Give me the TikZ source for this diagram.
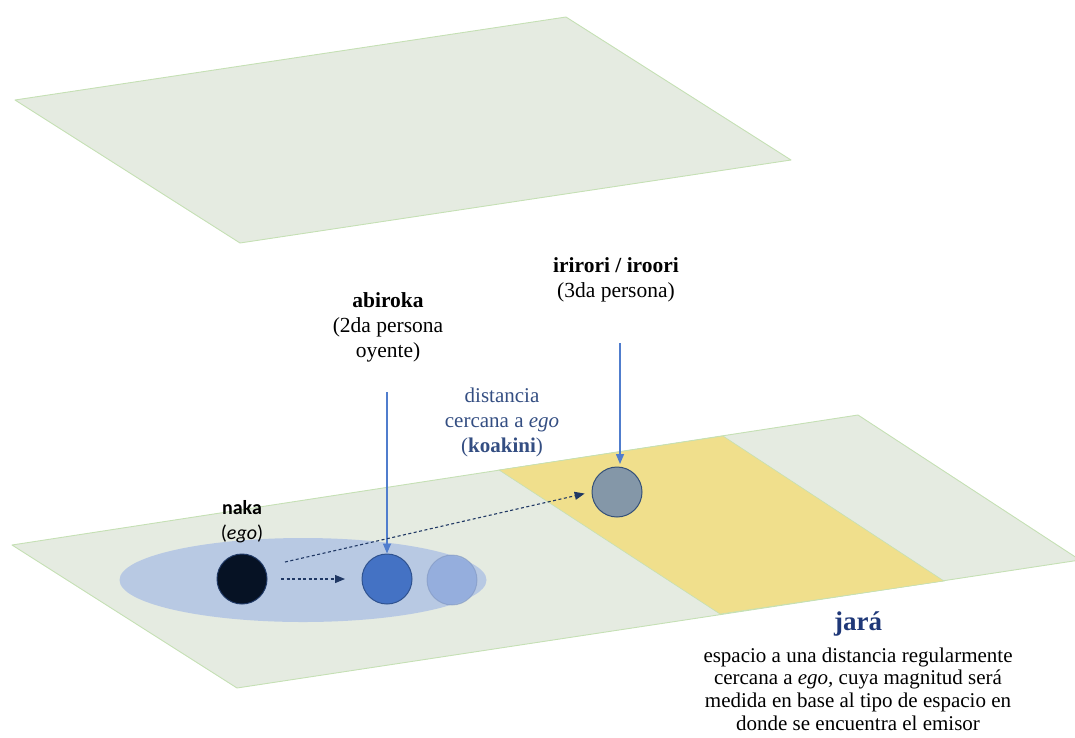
\documentclass[tikz,border=0pt]{standalone}
\usepackage{fontspec}
\setmainfont{Liberation Serif}
\newfontfamily\sansf{Carlito}
\newfontfamily\serif{Liberation Serif}
\usetikzlibrary{arrows.meta,shapes.geometric}
\definecolor{planefill}{RGB}{229,235,225}
\definecolor{planeedge}{RGB}{197,224,180}
\definecolor{bandfill}{RGB}{240,223,140}
\definecolor{haze}{RGB}{180,198,228}
\definecolor{egofill}{RGB}{6,18,36}
\definecolor{egoedge}{RGB}{31,56,100}
\definecolor{hearfill}{RGB}{68,114,196}
\definecolor{hearedge}{RGB}{47,82,143}
\definecolor{ghostfill}{RGB}{143,170,220}
\definecolor{thirdfill}{RGB}{132,151,168}
\definecolor{thirdedge}{RGB}{52,80,120}
\definecolor{pointer}{RGB}{80,125,205}
\definecolor{path}{RGB}{32,56,100}
\definecolor{distblue}{RGB}{52,78,130}
\definecolor{titleblue}{RGB}{31,56,120}
\tikzset{
  plane/.style={fill=planefill, draw=planeedge, line width=0.9pt, line join=round},
  band/.style={fill=bandfill, draw=planeedge, line width=0.6pt},
  person/.style={circle, minimum size=50pt, inner sep=0pt, line width=1pt},
  pointerarrow/.style={draw=pointer, line width=1.4pt, -{Triangle[length=10pt,width=8pt]}},
  patharrow/.style={draw=path, line width=1.1pt, dash pattern=on 3pt off 2.5pt, -{Triangle[length=10pt,width=8pt]}},
}
\begin{document}
\begin{tikzpicture}[x=1pt,y=-1pt]
\useasboundingbox (0,0) rectangle (1075,737);
% upper plane
\draw[plane] (15,100) -- (566,17) -- (791,160) -- (240,243) -- cycle;
% lower plane
\draw[plane] (12,545) -- (858,415) -- (1080,560) -- (237,688) -- cycle;
% near-distance band on the lower plane
\draw[band] (499,470) -- (723,436) -- (944,581) -- (720,614) -- cycle;
% zone around ego and hearer
\node[ellipse, minimum width=367pt, minimum height=84pt, inner sep=0pt, fill=haze, fill opacity=0.9] (zone) at (303,580) {};
% persons
\node[person, fill=egofill, draw=egoedge] (ego) at (242,579) {};
\node[person, fill=ghostfill, draw=ghostfill!85!black, fill opacity=0.85, draw opacity=0.5] (ghost) at (452,580) {};
\node[person, fill=hearfill, draw=hearedge] (hearer) at (387,579) {};
\node[person, fill=thirdfill, draw=thirdedge] (third) at (617,492) {};
% labels
\node[align=center, font=\sansf\fontsize{20}{25}\selectfont] (nakalbl) at (242,522) {\textbf{naka}\\(\textit{ego})};
\node[align=center, font=\serif\fontsize{21.5}{25}\selectfont] (abirokalbl) at (388,327) {\textbf{abiroka}\\(2da persona\\oyente)};
\node[align=center, font=\serif\fontsize{21.5}{25}\selectfont] (irirorilbl) at (616,280) {\textbf{irirori / iroori}\\(3da persona)};
\node[align=center, font=\serif\fontsize{21}{25}\selectfont, text=distblue] (distlbl) at (502,422) {distancia\\cercana a \textit{ego}\\(\textbf{koakini})};
\node[align=center, text=titleblue, font=\serif\bfseries\fontsize{27}{30}\selectfont] (jara) at (858,624) {jará};
\node[align=center, font=\serif\fontsize{21}{22.6}\selectfont] (jaradesc) at (858,689) {espacio a una distancia regularmente\\cercana a \textit{ego,} cuya magnitud será\\medida en base al tipo de espacio en\\donde se encuentra el emisor};
% pointers from labels to persons
\coordinate (abirokatop) at (387,392);
\coordinate (iriroritop) at (620,343);
\draw[pointerarrow] (abirokatop) -- (hearer.north);
\draw[pointerarrow] (iriroritop) -- (620,464);
% movement paths
\draw[patharrow] (281,579) -- (345,579);
\draw[patharrow, shorten >=7pt] (285,562) -- (third.west);
\end{tikzpicture}
\end{document}
